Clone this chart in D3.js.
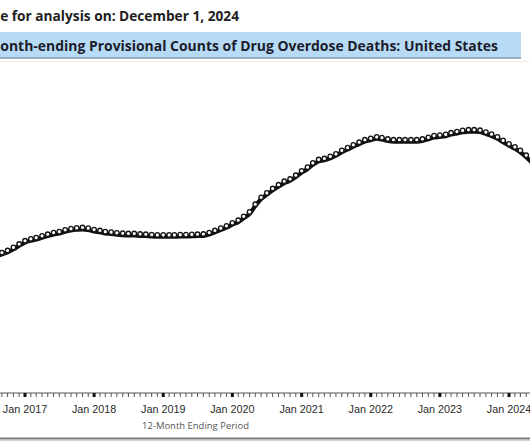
<!DOCTYPE html>
<html>
<head>
<meta charset="utf-8">
<script src="https://cdn.jsdelivr.net/npm/d3@7"></script>
<style>
  html, body { margin: 0; padding: 0; background: #fff; }
  svg { display: block; }
</style>
</head>
<body>
<div id="chart"></div>
<script>
// ---- data ----
const subtitleText = "Based on data available for analysis on: December 1, 2024";
const titleText = "12 Month-ending Provisional Counts of Drug Overdose Deaths: United States";
const xAxisTitle = "12-Month Ending Period";
const firstPeriod = "2016-08";   // first 12-month ending period shown
const lastPeriod = "2024-06";    // last 12-month ending period shown
const tickLabels = ["Jan 2017", "Jan 2018", "Jan 2019", "Jan 2020", "Jan 2021", "Jan 2022", "Jan 2023", "Jan 2024"];
// 12-month ending counts (one per month, Aug 2016 .. Jun 2024)
const deathCounts = [
  59500, 60500, 61400, 62700, 64200,
  65600, 66400, 66900, 67700, 68400, 69100, 69500, 70300, 70800, 71100, 71300, 71000,
  70400, 70000, 69500, 69300, 69000, 68800, 68700, 68700, 68500, 68400, 68200, 68100,
  68100, 68100, 68100, 68200, 68200, 68300, 68400, 68500, 69100, 70000, 71000, 72000,
  73300, 74400, 76100, 78000, 81300, 84300, 86200, 88100, 89700, 91200, 92200, 93800,
  95700, 97300, 99100, 100600, 101000, 101900, 103000, 104500, 105700, 106900, 108000, 109100,
  109700, 110300, 110000, 109400, 109100, 109100, 109100, 109100, 109100, 109400, 110100, 110900,
  111100, 111400, 112100, 112600, 113100, 113400, 113400, 113200, 112400, 111500, 110300, 108800,
  107300, 106000, 104500, 102400, 100000, 97000
];
const yDomain = [0, 140000];

// ---- build ----
const W = 530, H = 442;
const parseMonth = d3.timeParse("%Y-%m");
const periods = d3.timeMonth.range(parseMonth(firstPeriod), d3.timeMonth.offset(parseMonth(lastPeriod), 1));
const data = periods.map((d, i) => ({ date: d, value: deathCounts[i] }));

const plot = { left: 0, right: W, top: 62, bottom: 393 };

const svg = d3.select("#chart").append("svg")
  .attr("width", W).attr("height", H)
  .style("font-family", "'Liberation Sans', Arial, sans-serif");

svg.append("rect").attr("width", W).attr("height", H).attr("fill", "#fff");

const x = d3.scaleTime()
  .domain([parseMonth("2017-01"), parseMonth("2024-01")])
  .range([25, 509]);
const y = d3.scaleLinear().domain(yDomain).range([plot.bottom, 68]);

// fit a text so that its visible part has a given width
function fitText(sel, visibleStr, targetW, baseSize) {
  const probe = svg.append("text").attr("font-size", baseSize)
    .attr("font-family", sel.attr("font-family")).attr("font-weight", sel.attr("font-weight"))
    .text(visibleStr);
  const w = probe.node().getComputedTextLength();
  probe.remove();
  sel.attr("font-size", baseSize * targetW / w);
}

// subtitle (date line) - the reference crop shows only its right part
const sub = svg.append("text")
  .attr("x", 239).attr("y", 21)
  .attr("text-anchor", "end")
  .attr("font-family", "'Open Sans', 'Noto Sans', sans-serif")
  .attr("font-weight", "bold")
  .attr("fill", "#1e1e1e")
  .text(subtitleText);
fitText(sub, "e for analysis on: December 1, 2024", 239, 14);

// title banner
svg.append("rect").attr("x", 0).attr("y", 32).attr("width", 521).attr("height", 26)
  .attr("fill", "#b7dbf6");
svg.append("line").attr("x1", 0).attr("x2", 521).attr("y1", 58).attr("y2", 58)
  .attr("stroke", "#8398ae").attr("stroke-width", 1.5);
const ttl = svg.append("text")
  .attr("x", 498).attr("y", 51)
  .attr("text-anchor", "end")
  .attr("font-family", "'Open Sans', 'Noto Sans', sans-serif")
  .attr("font-weight", "bold")
  .attr("fill", "#1c1c2a")
  .text(titleText);
fitText(ttl, "onth-ending Provisional Counts of Drug Overdose Deaths: United States", 498, 16);

// faint top border of the plot area
svg.append("line").attr("x1", 0).attr("x2", W).attr("y1", 61.5).attr("y2", 61.5)
  .attr("stroke", "#f6ecdc").attr("stroke-width", 1);

// clip
svg.append("clipPath").attr("id", "clip").append("rect")
  .attr("x", plot.left).attr("y", plot.top).attr("width", plot.right - plot.left).attr("height", plot.bottom - plot.top);

const g = svg.append("g").attr("clip-path", "url(#clip)");

const line = d3.line().x(d => x(d.date)).y(d => y(d.value)).curve(d3.curveMonotoneX);
g.append("path").datum(data)
  .attr("d", line)
  .attr("fill", "none").attr("stroke", "#111").attr("stroke-width", 4.2)
  .attr("transform", "translate(0,1.8)");

g.selectAll("circle.pt").data(data).join("circle")
  .attr("class", "pt")
  .attr("cx", d => x(d.date)).attr("cy", d => y(d.value))
  .attr("r", 2.25)
  .attr("fill", "#fff").attr("stroke", "#151515").attr("stroke-width", 1.35);

// x axis
const axisY = plot.bottom;
const minorTicks = d3.timeMonth.range(parseMonth("2016-06"), parseMonth("2024-08"));
svg.append("line").attr("x1", 0).attr("x2", W).attr("y1", axisY).attr("y2", axisY)
  .attr("stroke", "#555").attr("stroke-width", 1);
svg.append("g").selectAll("line").data(minorTicks.filter(d => d.getMonth() !== 0)).join("line")
  .attr("x1", d => x(d)).attr("x2", d => x(d))
  .attr("y1", axisY).attr("y2", axisY + 4)
  .attr("stroke", "#555").attr("stroke-width", 1);
const majorDates = tickLabels.map(t => d3.timeParse("%b %Y")(t));
svg.append("g").selectAll("rect").data(majorDates).join("rect")
  .attr("x", d => x(d) - 1.5).attr("y", axisY).attr("width", 3).attr("height", 4)
  .attr("fill", "#111");
svg.append("g").selectAll("text").data(tickLabels).join("text")
  .attr("x", (t, i) => x(majorDates[i])).attr("y", 413)
  .attr("text-anchor", "middle")
  .attr("font-size", 10.8)
  .attr("fill", "#2a2a2a")
  .text(t => t);

const xt = svg.append("text")
  .attr("x", 195.5).attr("y", 429)
  .attr("text-anchor", "middle")
  .attr("font-family", "'Open Sans', 'Noto Sans', sans-serif")
  .attr("fill", "#555")
  .text(xAxisTitle);
fitText(xt, xAxisTitle, 107, 10);

// bottom rule
svg.append("line").attr("x1", 0).attr("x2", W).attr("y1", 438.5).attr("y2", 438.5)
  .attr("stroke", "#7a7a7a").attr("stroke-width", 2);
svg.append("line").attr("x1", 0).attr("x2", W).attr("y1", 440.5).attr("y2", 440.5)
  .attr("stroke", "#d0d0d0").attr("stroke-width", 1);
</script>
</body>
</html>
